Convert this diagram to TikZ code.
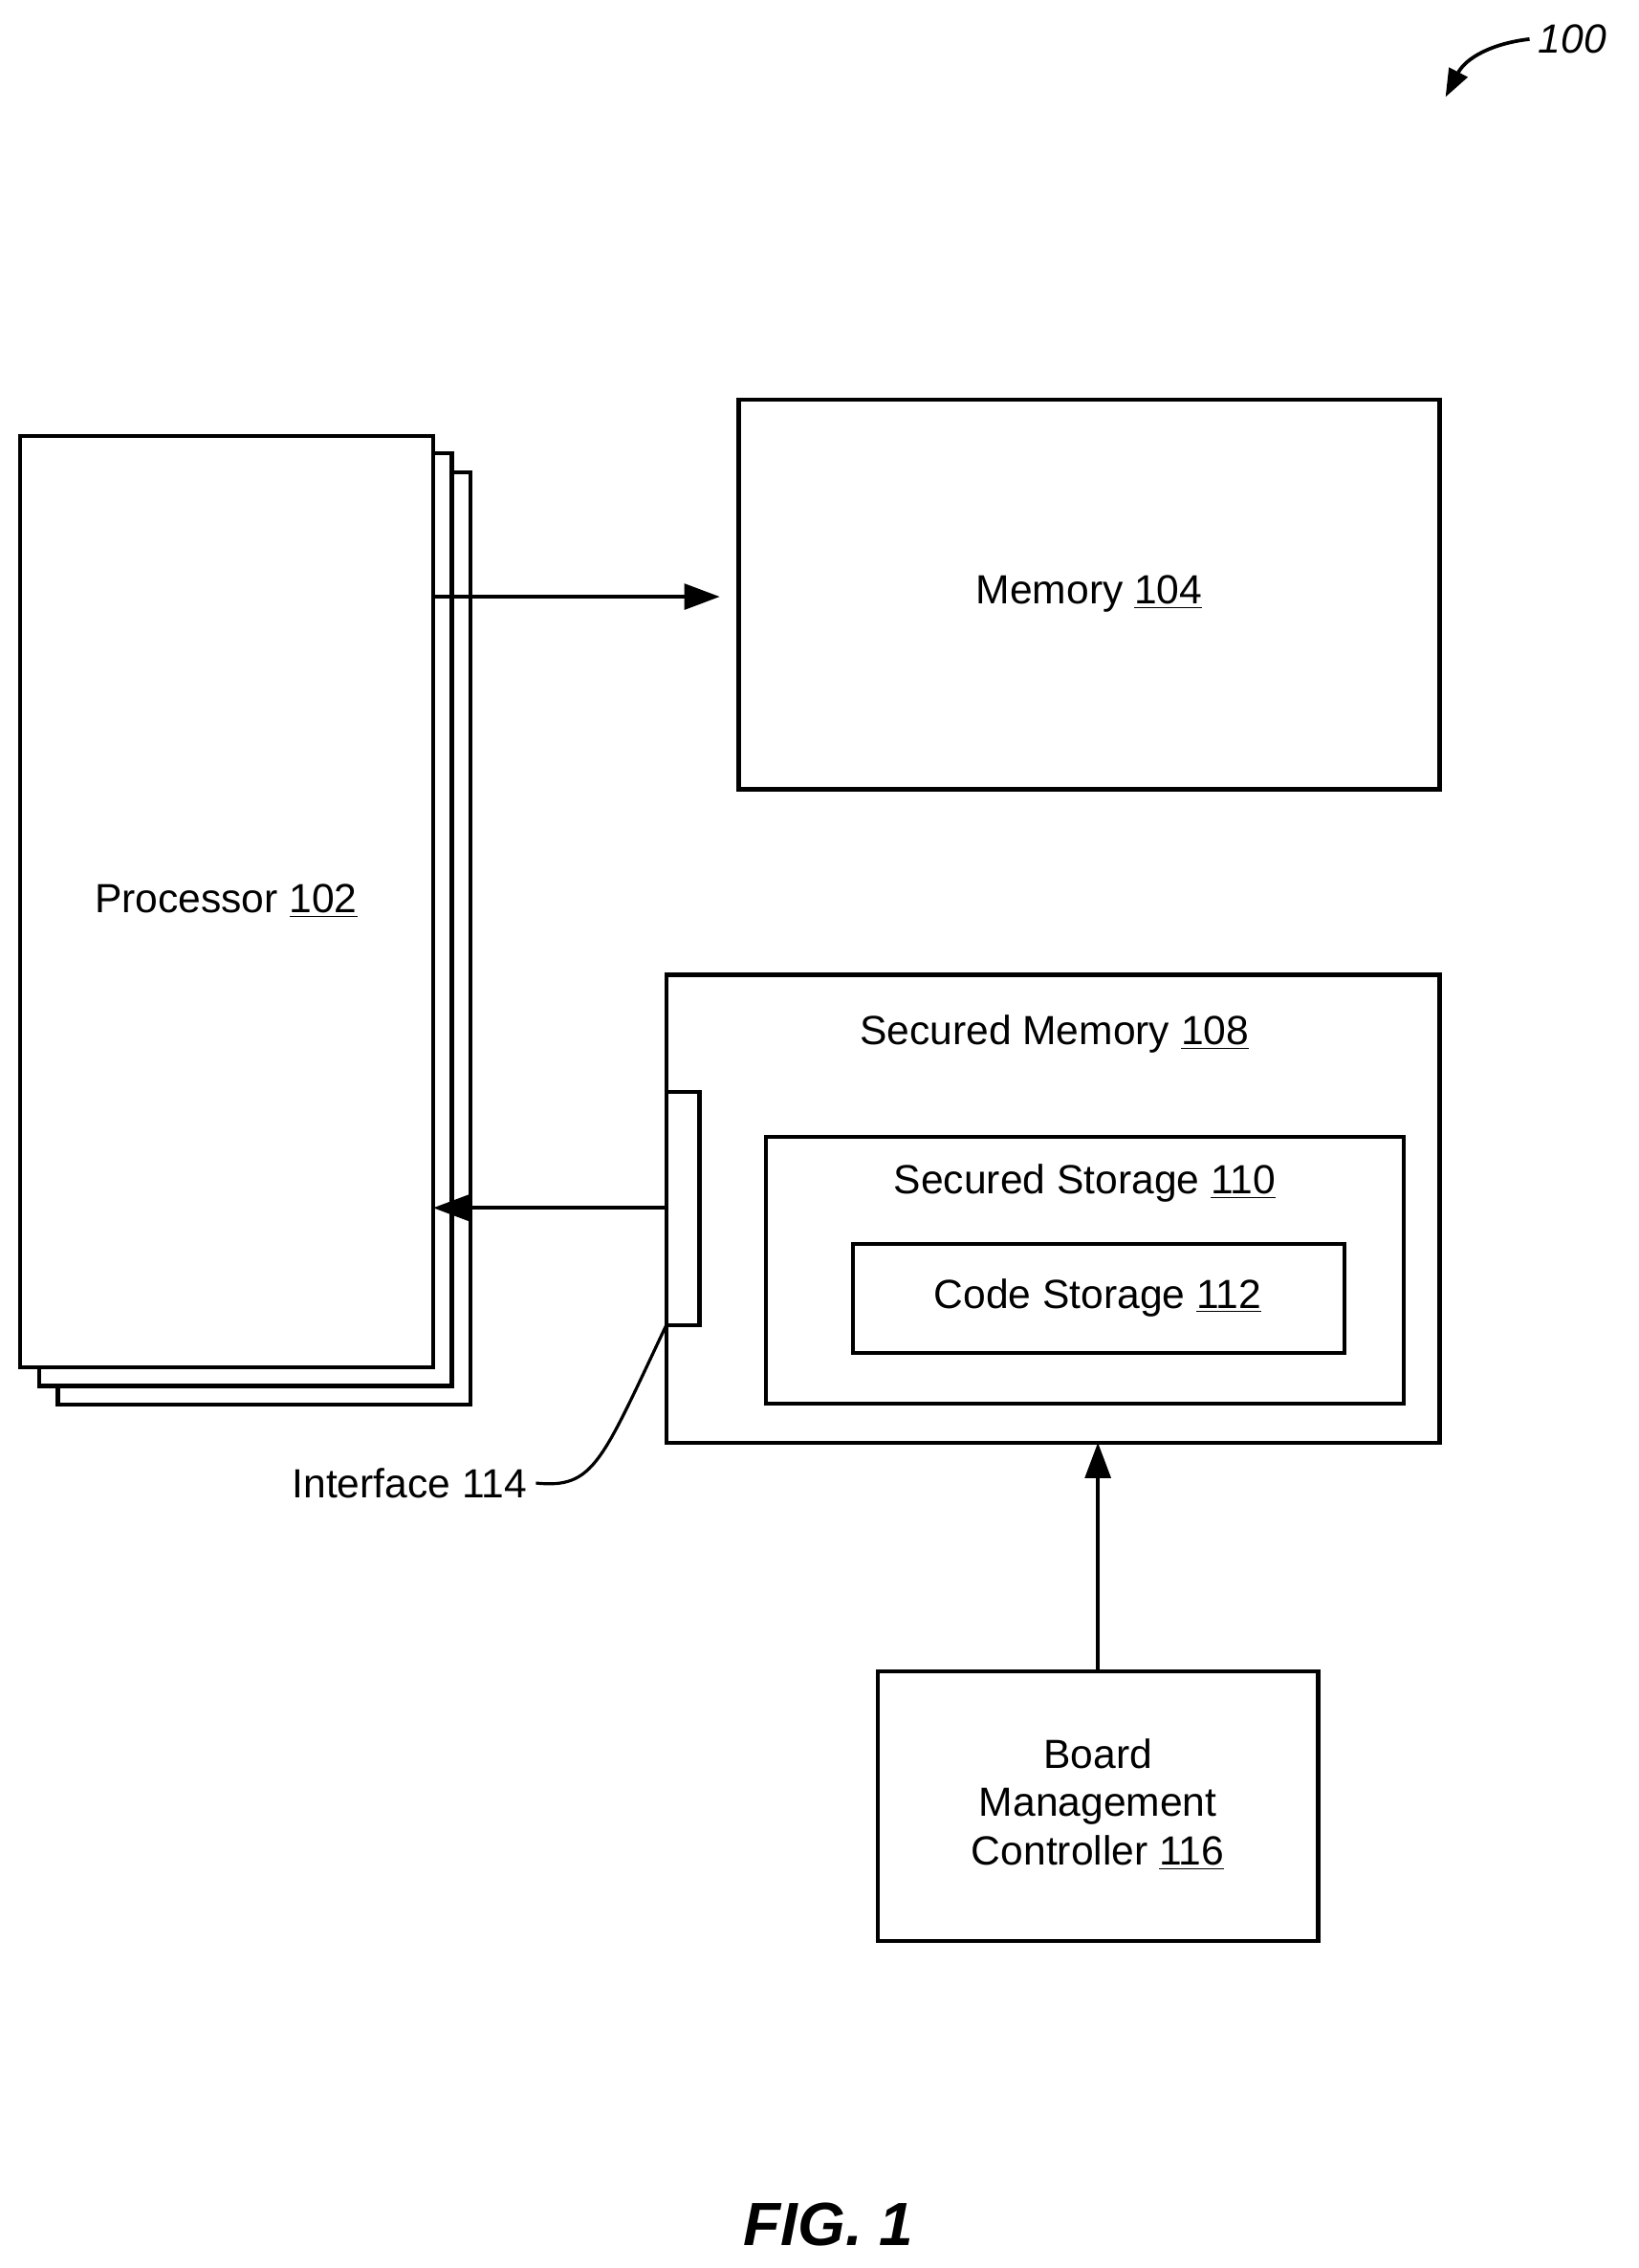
\documentclass[tikz,border=0pt]{standalone}
\usepackage{fontspec}
\setmainfont{Liberation Sans}
\usetikzlibrary{arrows.meta}
\begin{document}
\begin{tikzpicture}[x=0.02cm,y=-0.02cm,
  box/.style={draw,line width=1.6pt,fill=white},
  lbl/.style={font=\fontsize{16}{19}\selectfont,align=center},
  arr/.style={line width=1.6pt,-{Triangle[length=14pt,width=10pt]}}]
\useasboundingbox (0,0) rectangle (1131,1566);
\draw[box] (40,326) rectangle (325,970);
\draw[box] (27,313) rectangle (312,957);
\draw[box] (14,301) rectangle (299,944);
\node[lbl] (proc) at (156,622) {Processor \underline{102}};
\draw[box] (510,276) rectangle (994,545);
\node[lbl] (mem) at (752,410) {Memory \underline{104}};
\coordinate (pa) at (299,412); \coordinate (ma) at (497,412);
\draw[arr] (pa) -- (ma);
\draw[box] (460,673) rectangle (994,996);
\node[lbl] (sm) at (728,714) {Secured Memory \underline{108}};
\draw[box] (460,754) rectangle (483,915);
\draw[box] (529,785) rectangle (969,969);
\node[lbl] (ss) at (749,817) {Secured Storage \underline{110}};
\draw[box] (589,859) rectangle (928,934);
\node[lbl] (cs) at (758,896) {Code Storage \underline{112}};
\coordinate (ia) at (460,834); \coordinate (pb) at (299,834);
\draw[arr] (ia) -- (pb);
\node[lbl,anchor=east] (il) at (370,1024) {Interface 114};
\coordinate (ib) at (460,915);
\draw[line width=1.2pt] (il.east) .. controls (410,1028) and (415,1010) .. (ib);
\draw[box] (606,1154) rectangle (910,1340);
\node[lbl] (bmc) at (758,1246) {Board\\Management\\Controller \underline{116}};
\coordinate (ba) at (758,1154); \coordinate (sa) at (758,996);
\draw[arr] (ba) -- (sa);
\node[font=\fontsize{24}{28}\selectfont\bfseries\itshape] (fig) at (572,1536) {FIG. 1};
\node[font=\fontsize{16}{19}\selectfont\itshape,anchor=west] (ref) at (1056,27) {100};
\coordinate (rt) at (998,67);
\draw[line width=1.4pt,-{Triangle[length=11pt,width=8pt]}] (ref.west) .. controls (1030,30) and (1012,40) .. (rt);
\end{tikzpicture}
\end{document}
